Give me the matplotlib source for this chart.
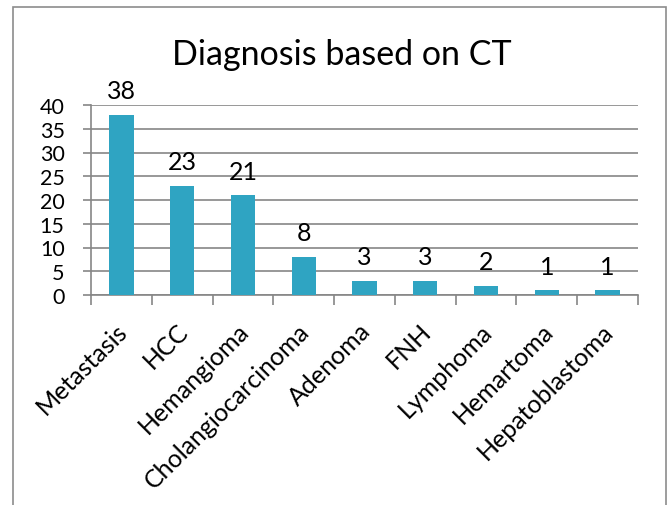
import matplotlib.pyplot as plt
import matplotlib.transforms as mtransforms
from matplotlib.patches import Rectangle

# diagnosis counts
categories = ['Metastasis', 'HCC', 'Hemangioma', 'Cholangiocarcinoma', 'Adenoma',
              'FNH', 'Lymphoma', 'Hemartoma', 'Hepatoblastoma']
counts = [38, 23, 21, 8, 3, 3, 2, 1, 1]
y_ticks = [0, 5, 10, 15, 20, 25, 30, 35, 40]

plt.rcParams['font.family'] = ['Lato', 'DejaVu Sans']
bar_color = '#2fa4c2'
grid_color = '#868686'

fig = plt.figure(figsize=(6.7, 5.06), dpi=100)
ax = fig.add_axes([91 / 670, 1 - 296 / 506, (638 - 91) / 670, (296 - 106) / 506])

x = list(range(len(categories)))
bars = ax.bar(x, counts, width=0.4, color=bar_color, zorder=3)

ax.set_xlim(-0.5, len(categories) - 0.5)
ax.set_ylim(0, 40)
ax.set_yticks(y_ticks)
ax.yaxis.grid(True, color=grid_color, linewidth=1.2, zorder=0)
ax.set_axisbelow(True)

# data labels
for xi, v in zip(x, counts):
    ax.annotate(str(v), (xi, v), xytext=(0, 9), textcoords='offset points',
                ha='center', va='bottom', fontsize=18)

# category labels and boundary ticks
ax.set_xticks(x)
ax.set_xticklabels(categories, rotation=45, ha='right', rotation_mode='anchor', fontsize=18)
ax.tick_params(axis='x', which='major', length=0, pad=17)
shift = mtransforms.ScaledTranslation(-6 / 100, 0, fig.dpi_scale_trans)
for lab in ax.get_xticklabels():
    lab.set_transform(lab.get_transform() + shift)
ax.set_xticks([i - 0.5 for i in range(len(categories) + 1)], minor=True)
ax.tick_params(axis='x', which='minor', length=7, width=1.2, color=grid_color)
ax.tick_params(axis='y', length=6, width=1.2, color=grid_color, labelsize=15.5, pad=13)

for side in ['top', 'right']:
    ax.spines[side].set_visible(False)
for side in ['left', 'bottom']:
    ax.spines[side].set_color(grid_color)
    ax.spines[side].set_linewidth(1.2)

fig.text(342 / 670, 1 - 55 / 506, 'Diagnosis based on CT', ha='center', va='center', fontsize=24.5)

# chart area border
fig.patches.append(Rectangle((13 / 670, -0.1), 653 / 670, 1.1 - 8 / 506,
                             transform=fig.transFigure, fill=False,
                             edgecolor='#8c8c8c', linewidth=1.2))

fig.savefig('out.png', dpi=100)
